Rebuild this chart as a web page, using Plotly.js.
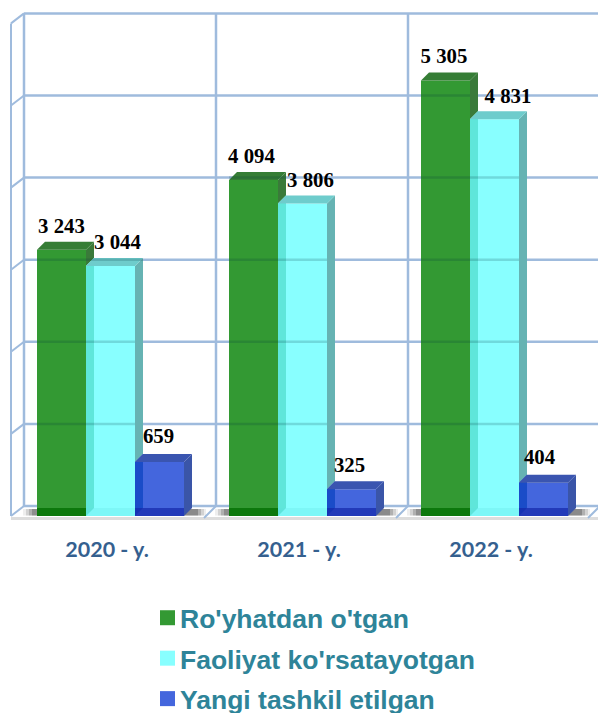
<!DOCTYPE html>
<html><head><meta charset="utf-8">
<script src="https://cdn.plot.ly/plotly-3.0.1.min.js"></script>
<style>html,body{margin:0;padding:0;background:#fff}#c{width:598px;height:713px}</style>
</head><body><div id="c"></div>
<script>
const years = ["2020 - y.", "2021 - y.", "2022 - y."];
const registered = [3243, 4094, 5305];
const active = [3044, 3806, 4831];
const created = [659, 325, 404];
const valueLabels = [["3 243","4 094","5 305"],["3 044","3 806","4 831"],["659","325","404"]];
const names = ["Ro'yhatdan o'tgan","Faoliyat ko'rsatayotgan","Yangi tashkil etilgan"];
const series = [registered, active, created];
const colors = ["#339933","#88ffff","#4466dd"];
const gridValues = [0,1000,2000,3000,4000,5000,6000];

// scale constants: pixels per unit of each axis
const W=598,H=713,plotH=530,zeroY=516,pxPerGroup=192,pxPerVal=0.0821,firstCenter=110.5,barPx=49;
const fx=p=>p/pxPerGroup, fy=p=>p/pxPerVal;
const xr=[-firstCenter/pxPerGroup,(W-firstCenter)/pxPerGroup];
const yr=[-(plotH-zeroY)/pxPerVal,zeroY/pxPerVal];
const dX=fx(8),dY=fy(8);
const bw=fx(barPx);
const left=(g,s)=>g-1.5*bw+s*bw;

function poly(list){const x=[],y=[];list.forEach(p=>{p.forEach(q=>{x.push(q[0]);y.push(q[1]);});x.push(p[0][0],null);y.push(p[0][1],null);});return {x,y};}
function face(list,color){const d=poly(list);return {type:"scatter",mode:"lines",x:d.x,y:d.y,fill:"toself",fillcolor:color,line:{width:0},hoverinfo:"skip",showlegend:false,cliponaxis:false};}

const traces=[];
// front faces
series.forEach((v,s)=>traces.push({type:"bar",x:[0,1,2],y:v,name:names[s],marker:{color:colors[s],line:{width:0}},showlegend:false,hoverinfo:"skip",cliponaxis:false}));

// upper side faces, lower side faces overlapping the neighbour, tops, bottom strip
const sideCol=["#3a7a3a","#66b3b3","#3a55a8"], overCol=["#5fe6da","#1a4cc8",null], topCol=["#357d35","#6ecccc","#3a55b0"], baseCol=["rgba(0,110,0,0.75)","rgba(90,225,225,0.25)","rgba(20,40,170,0.7)"];
series.forEach((v,s)=>{
  const side=[],over=[],top=[],base=[];
  v.forEach((val,g)=>{
    const l=left(g,s),r=l+bw;
    top.push([[l,val],[r,val],[r+dX,val+dY],[l+dX,val+dY]]);
    base.push([[l,0],[r,0],[r,dY],[l,dY]]);
    if(s<2){
      const nv=series[s+1][g];
      side.push([[r,val],[r+dX,val+dY],[r+dX,nv+dY],[r,nv]]);
      over.push([[r,nv],[r+dX,nv+dY],[r+dX,dY],[r,0]]);
    } else side.push([[r,val],[r+dX,val+dY],[r+dX,dY],[r,0]]);
  });
  traces.push(face(base,baseCol[s]));
  traces.push(face(side,sideCol[s]));
  if(over.length) traces.push(face(over,overCol[s]));
  traces.push(face(top,topCol[s]));
});

// back wall gridlines seen through the translucent bars
const gx=[],gy=[];
gridValues.slice(1).forEach(gv=>{
  const yy=gv+fy(10);
  series.forEach((v,s)=>v.forEach((val,g)=>{
    if(val+dY>yy){
      const a=left(g,s), b=a+bw+(s==2?dX:0);
      const frontOnly=val>yy;
      gx.push(a,frontOnly?b:b+dX,null);gy.push(yy,yy,null);
    }
  }));
});
traces.push({type:"scatter",mode:"lines",x:gx,y:gy,line:{color:"rgba(0,50,60,0.18)",width:2.5},hoverinfo:"skip",showlegend:false,cliponaxis:false});

// value labels
const labelDx=[[0,-2,-1.5],[7,8,13.5],[-1,-2,-4]];
const labelDy=[[22,22,23],[22,22,22],[24,23,24]];
series.forEach((v,s)=>traces.push({type:"scatter",mode:"text",
  x:v.map((_,g)=>left(g,s)+bw/2+fx(labelDx[s][g])),
  y:v.map((val,g)=>val+fy(labelDy[s][g])),
  text:valueLabels[s],textposition:"middle center",
  textfont:{family:"Liberation Serif",size:20.8,color:"#000",weight:700},
  hoverinfo:"skip",showlegend:false,cliponaxis:false}));

// legend entries
series.forEach((v,s)=>traces.push({type:"scatter",mode:"markers",x:[null],y:[null],name:names[s],legendgroup:"g"+s,
  marker:{symbol:"square",size:15,color:colors[s]},hoverinfo:"skip"}));

// background: walls, grid, floor
const wall="#9fbbdd", shapes=[];
const seg=(x0,y0,x1,y1,color,w)=>shapes.push({type:"line",layer:"below",xref:"x",yref:"y",x0,y0,x1,y1,line:{color,width:w}});
const fl=xr[0]+fx(11), bl=xr[0]+fx(24), wallLift=fy(10);
seg(fl,fy(-2.5),xr[1],fy(-2.5),"#dddddd",3);
gridValues.forEach(gv=>{
  const yy=gv+wallLift;
  seg(bl,yy,xr[1],yy,wall,2.5);
  seg(fl,gv,bl,yy,wall,2);
});
seg(fl,0,fl,6000,wall,2);
[0,1,2].forEach(k=>seg(bl+k,wallLift,bl+k,6000+wallLift,wall,2.5));
[1,2,3].forEach(k=>seg(fl+k+fx(1),-fy(2),bl+k,wallLift,wall,2));
// floor shadows next to the bars
const shade=(x0,x1,a)=>shapes.push({type:"rect",layer:"below",xref:"x",yref:"y",x0,x1,y0:fy(0.5),y1:fy(7),fillcolor:"rgba(40,40,40,"+a+")",line:{width:0}});
[0,1,2].forEach(g=>{
  const gl=left(g,0), gr=left(g,2)+bw;
  [[14,.08],[11,.14],[8,.2],[5,.25]].forEach(p=>shade(gl-fx(p[0]),gl,p[1]));
  [[22,.08],[20,.14],[17,.2],[14,.28]].forEach(p=>shade(gr,gr+fx(p[0]),p[1]));
});

const layout={width:W,height:H,margin:{l:0,r:0,t:0,b:H-plotH,pad:0,autoexpand:false},paper_bgcolor:"#fff",plot_bgcolor:"#fff",
  barmode:"group",bargap:1-3*bw,bargroupgap:0,
  xaxis:{range:xr,showgrid:false,zeroline:false,showline:false,tickmode:"array",tickvals:[0,1,2].map(g=>g-fx(3.5)),ticktext:years,ticks:"",
    tickfont:{family:"Lato",size:21.5,color:"#35608f",weight:700},ticklabelstandoff:4,fixedrange:true},
  yaxis:{range:yr,showgrid:false,zeroline:false,showline:false,showticklabels:false,ticks:"",fixedrange:true},
  showlegend:true,
  legend:{x:140/W,xanchor:"left",y:(plotH-594)/plotH,yanchor:"top",bgcolor:"rgba(0,0,0,0)",borderwidth:0,tracegroupgap:3,
    font:{family:"Liberation Sans",size:26.5,color:"#2e8499",weight:700},itemsizing:"trace",itemwidth:30,traceorder:"grouped"},
  shapes};
Plotly.newPlot("c",traces,layout,{displayModeBar:false,staticPlot:true}).then(()=>{
  // bring the legend swatches closer to their text
  document.querySelectorAll(".legend .legendpoints").forEach(n=>n.setAttribute("transform","translate(7.5,0)"));
});
</script></body></html>
